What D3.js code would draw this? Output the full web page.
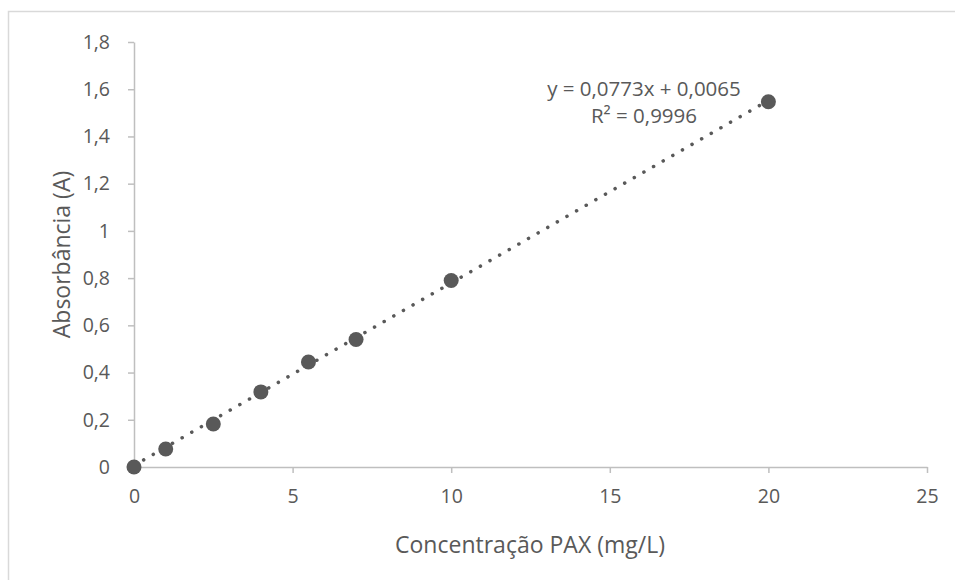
<!DOCTYPE html>
<html>
<head>
    <script src="https://d3js.org/d3.v7.min.js"></script>
    <style>
        body { margin: 0; background: #fff; }
        text { font-family: "Open Sans", sans-serif; fill: #595959; }
    </style>
</head>
<body>
<div id="chart"></div>
<script>
    const width = 955;
    const height = 580;

    // data
    const concentration = [0, 1, 2.5, 4, 5.5, 7, 10, 20];
    const absorbance = [0, 0.076, 0.182, 0.318, 0.445, 0.54, 0.79, 1.547];
    const xTicks = [0, 5, 10, 15, 20, 25];
    const yTicks = [0, 0.2, 0.4, 0.6, 0.8, 1, 1.2, 1.4, 1.6, 1.8];
    const slope = 0.0773, intercept = 0.0065;
    const trendRange = [0, 20];

    const margin = {left: 134, right: 28, top: 42, bottom: 113};

    const svg = d3.select("#chart").append("svg")
        .attr("width", width)
        .attr("height", height);

    // chart area border
    svg.append("rect")
        .attr("x", 8.5).attr("y", 11.5)
        .attr("width", width).attr("height", height)
        .attr("fill", "none")
        .attr("stroke", "#d9d9d9")
        .attr("stroke-width", 1.5);

    const x = d3.scaleLinear().domain([0, 25]).range([margin.left, width - margin.right]);
    const y = d3.scaleLinear().domain([0, 1.8]).range([height - margin.bottom, margin.top]);

    const fmt = d => d3.format("~g")(d).replace(".", ",");

    const xAxis = svg.append("g")
        .attr("transform", `translate(0,${y(0)})`)
        .call(d3.axisBottom(x).tickValues(xTicks).tickSize(6).tickSizeOuter(0).tickFormat(fmt));
    const yAxis = svg.append("g")
        .attr("transform", `translate(${x(0)},0)`)
        .call(d3.axisLeft(y).tickValues(yTicks).tickSize(6).tickSizeOuter(0).tickFormat(fmt));

    [xAxis, yAxis].forEach(g => {
        g.attr("font-size", 19.5).attr("font-family", "'Open Sans', sans-serif");
        g.selectAll("path, line").attr("stroke", "#bfbfbf").attr("stroke-width", 1.5);
        g.selectAll("text").attr("fill", "#595959");
    });
    xAxis.selectAll("text").attr("y", 22).attr("dy", "0.71em");
    yAxis.selectAll("text").attr("x", -24);

    // trendline
    svg.append("line")
        .attr("x1", x(trendRange[0])).attr("y1", y(slope * trendRange[0] + intercept))
        .attr("x2", x(trendRange[1])).attr("y2", y(slope * trendRange[1] + intercept))
        .attr("stroke", "#595959")
        .attr("stroke-width", 3.5)
        .attr("stroke-linecap", "round")
        .attr("stroke-dasharray", "0.1 11");

    // markers
    svg.selectAll("circle.pt")
        .data(concentration.map((c, i) => ({c, a: absorbance[i]})))
        .enter().append("circle")
        .attr("class", "pt")
        .attr("cx", d => x(d.c))
        .attr("cy", d => y(d.a))
        .attr("r", 7.5)
        .attr("fill", "#595959");

    // equation
    svg.append("text").attr("x", 644).attr("y", 96)
        .attr("text-anchor", "middle").attr("font-size", 20.5)
        .text("y = 0,0773x + 0,0065");
    svg.append("text").attr("x", 644).attr("y", 123)
        .attr("text-anchor", "middle").attr("font-size", 20.5)
        .text("R² = 0,9996");

    // axis titles
    svg.append("text")
        .attr("x", 530).attr("y", 553)
        .attr("text-anchor", "middle").attr("font-size", 23)
        .text("Concentração PAX (mg/L)");
    svg.append("text")
        .attr("transform", `translate(70,${(y(0) + y(1.8)) / 2}) rotate(-90)`)
        .attr("text-anchor", "middle").attr("font-size", 23)
        .text("Absorbância (A)");
</script>
</body>
</html>
